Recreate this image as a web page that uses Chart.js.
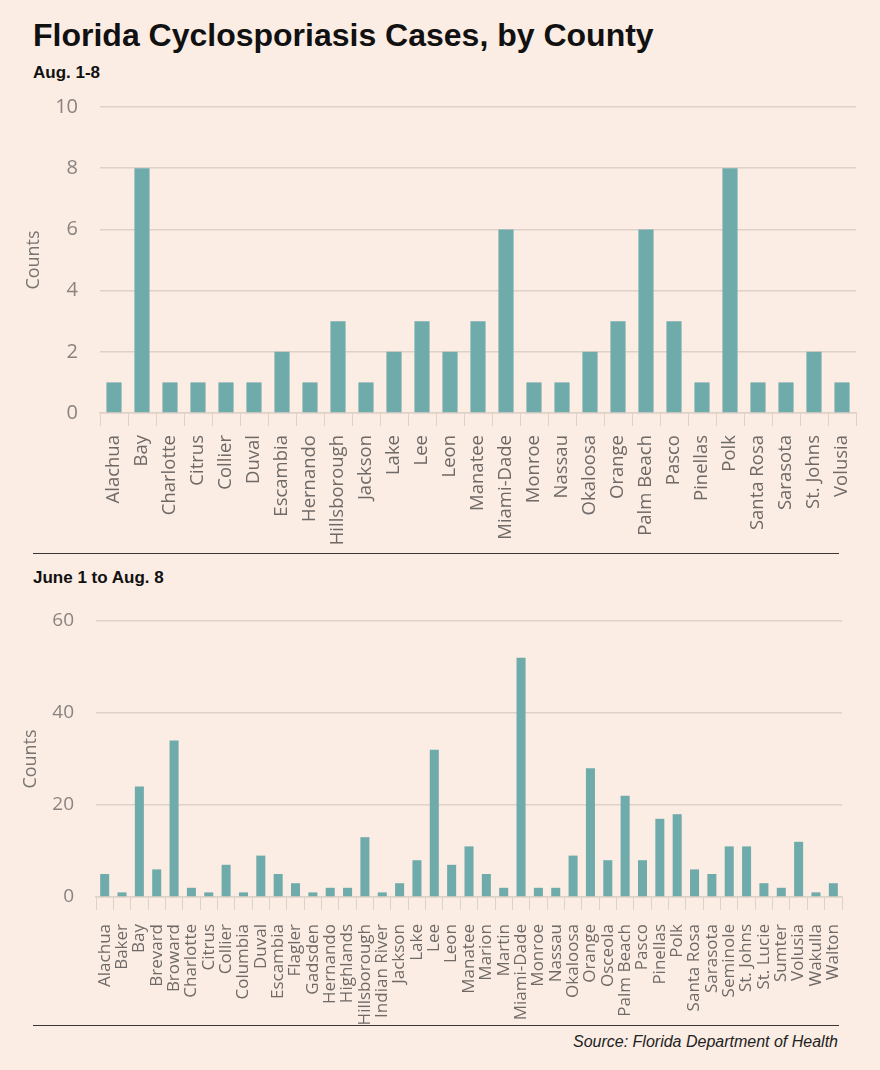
<!DOCTYPE html>
<html>
<head>
<meta charset="utf-8">
<script src="https://cdn.jsdelivr.net/npm/chart.js@4"></script>
<style>
  body { margin: 0; background: #fbede4; }
  #page { position: relative; width: 880px; height: 1070px; background: #fbede4; overflow: hidden; }
  .txt { position: absolute; font-family: "Liberation Sans", Arial, sans-serif; color: #111; }
  .rule { position: absolute; height: 0; border-top: 1.5px solid #3a3633; }
  canvas { position: absolute; }
</style>
</head>
<body>
<div id="page">
  <div class="txt" style="left:33px; top:17px; font-size:32px; font-weight:bold;">Florida Cyclosporiasis Cases, by County</div>
  <div class="txt" style="left:33px; top:63px; font-size:17px; font-weight:bold;">Aug. 1-8</div>
  <canvas id="topChart" width="880" height="460" style="left:0; top:90px;"></canvas>
  <div class="rule" style="left:33px; top:553px; width:806px;"></div>
  <div class="txt" style="left:33px; top:568px; font-size:17px; font-weight:bold;">June 1 to Aug. 8</div>
  <canvas id="bottomChart" width="880" height="430" style="left:0; top:600px;"></canvas>
  <div class="rule" style="left:33px; top:1025px; width:806px;"></div>
  <div class="txt" style="right:42px; top:1033px; font-size:16px; font-style:italic; color:#222;">Source: Florida Department of Health</div>
</div>
<script>
// Aug. 1-8 counts
const augCounties = ['Alachua', 'Bay', 'Charlotte', 'Citrus', 'Collier', 'Duval', 'Escambia', 'Hernando',
  'Hillsborough', 'Jackson', 'Lake', 'Lee', 'Leon', 'Manatee', 'Miami-Dade', 'Monroe', 'Nassau',
  'Okaloosa', 'Orange', 'Palm Beach', 'Pasco', 'Pinellas', 'Polk', 'Santa Rosa', 'Sarasota', 'St. Johns', 'Volusia'];
const augCounts = [1, 8, 1, 1, 1, 1, 2, 1, 3, 1, 2, 3, 2, 3, 6, 1, 1, 2, 3, 6, 3, 1, 8, 1, 1, 2, 1];

// June 1 to Aug. 8 counts
const seasonCounties = ['Alachua', 'Baker', 'Bay', 'Brevard', 'Broward', 'Charlotte', 'Citrus', 'Collier',
  'Columbia', 'Duval', 'Escambia', 'Flagler', 'Gadsden', 'Hernando', 'Highlands', 'Hillsborough',
  'Indian River', 'Jackson', 'Lake', 'Lee', 'Leon', 'Manatee', 'Marion', 'Martin', 'Miami-Dade',
  'Monroe', 'Nassau', 'Okaloosa', 'Orange', 'Osceola', 'Palm Beach', 'Pasco', 'Pinellas', 'Polk',
  'Santa Rosa', 'Sarasota', 'Seminole', 'St. Johns', 'St. Lucie', 'Sumter', 'Volusia', 'Wakulla', 'Walton'];
const seasonCounts = [5, 1, 24, 6, 34, 2, 1, 7, 1, 9, 5, 3, 1, 2, 2, 13, 1, 3, 8, 32, 7, 11, 5, 2, 52,
  2, 2, 9, 28, 8, 22, 8, 17, 18, 6, 5, 11, 11, 3, 2, 12, 1, 3];

const yTicksTop = { max: 10, step: 2 };
const yTicksBottom = { max: 60, step: 20 };

const barColor = '#6eabaa';
const gridColor = '#ddd1c8';
const axisFont = '"Open Sans", "Noto Sans", sans-serif';

function makeChart(id, labels, values, yTicks, opts) {
  const ctx = document.getElementById(id).getContext('2d');
  return new Chart(ctx, {
    type: 'bar',
    data: {
      labels: labels,
      datasets: [{
        data: values,
        backgroundColor: barColor,
        borderWidth: 0,
        barPercentage: opts.barPct,
        categoryPercentage: 1
      }]
    },
    options: {
      responsive: false,
      animation: false,
      layout: { padding: { top: opts.padTop, right: opts.padRight, left: 0, bottom: 0 } },
      plugins: { legend: { display: false }, tooltip: { enabled: false } },
      scales: {
        x: {
          grid: { drawOnChartArea: false, drawTicks: true, tickLength: 13, color: gridColor, offset: true },
          border: { display: true, color: gridColor, width: 1.5 },
          ticks: {
            autoSkip: false,
            maxRotation: 90,
            minRotation: 90,
            padding: opts.xPad,
            color: '#6f6a67',
            font: { family: axisFont, size: opts.xFont }
          },
          afterFit: (scale) => { scale.height = opts.xHeight; }
        },
        y: {
          min: 0,
          max: yTicks.max,
          ticks: {
            stepSize: yTicks.step,
            padding: 22,
            color: '#8a8380',
            font: { family: axisFont, size: opts.yFont }
          },
          grid: { color: gridColor, lineWidth: 1.5, drawTicks: false },
          border: { display: false },
          title: {
            display: true,
            text: 'Counts',
            color: '#7a7471',
            font: { family: axisFont, size: 18 },
            padding: { top: opts.titlePad, bottom: 4 }
          },
          afterFit: (scale) => {
            scale.width = opts.yWidth;
            scale.paddingTop = 0;
            scale.paddingBottom = 0;
          }
        }
      }
    }
  });
}

makeChart('topChart', augCounties, augCounts, yTicksTop,
  { barPct: 0.54, padTop: 17, padRight: 24, xHeight: 137, yWidth: 100, xFont: 18.5, yFont: 20, xPad: 9, titlePad: 23 });
makeChart('bottomChart', seasonCounties, seasonCounts, yTicksBottom,
  { barPct: 0.52, padTop: 21, padRight: 38, xHeight: 133, yWidth: 96, xFont: 17, yFont: 19, xPad: 14, titlePad: 20 });
</script>
</body>
</html>
